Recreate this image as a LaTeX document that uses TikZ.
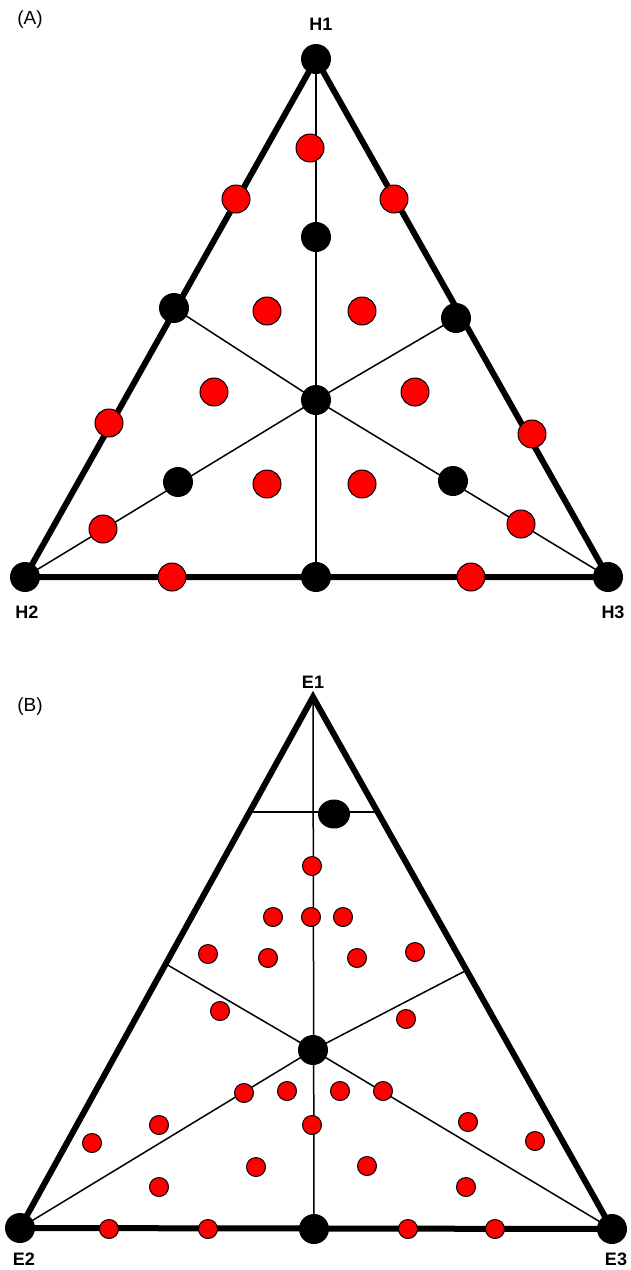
\documentclass[tikz,border=0pt]{standalone}
\usepackage{fontspec}
\setmainfont{Liberation Sans}
\usetikzlibrary{positioning, shapes.geometric}

\begin{document}
\begin{tikzpicture}[
  x=1pt, y=-1pt,
  side/.style={line width=6pt},
  median/.style={line width=1.5pt},
  blackdot/.style={circle, fill=black, inner sep=0pt, minimum size=#1},
  reddot/.style={circle, fill=red, draw=black, line width=1pt, inner sep=0pt, minimum size=#1},
  vertex/.style={font=\fontsize{18}{18}\selectfont\bfseries, inner sep=0pt},
  panel/.style={font=\fontsize{19}{19}\selectfont, inner sep=0pt}
]
\useasboundingbox (0,0) rectangle (630,1270);

% === (A) H1-H2-H3 ===
\coordinate (h1)  at (316,59);
\coordinate (h2)  at (25,577);
\coordinate (h3)  at (608,577);
\coordinate (h12) at (174,308);
\coordinate (h13) at (456,318);
\coordinate (h23) at (316,577);
\coordinate (hc)  at (316,400);

\draw[median] (h1) -- (h23);
\draw[median] (h2) -- (hc) -- (h13);
\draw[median] (h3) -- (hc) -- (h12);
\draw[side, line join=round] (h1) -- (h2) -- (h3) -- cycle;

\foreach \c in {h1, h2, h3, h12, h13, h23, hc}
  \node[blackdot=30pt] (d\c) at (\c) {};
\node[blackdot=30pt] (ha1) at (316,237) {};
\node[blackdot=30pt] (ha2) at (178,482) {};
\node[blackdot=30pt] (ha3) at (453,481) {};

\foreach \p [count=\i] in {(236,199), (109,423), (394,199), (532,434), (172,577),
    (471,577), (310,148), (267,311), (362,311), (214,392), (415,392), (267,484),
    (362,484), (103,529), (521,524)}
  \node[reddot=28pt] (hr\i) at \p {};

\node[panel]  (la) at (30,20)   {(A)};
\node[vertex] (lh1) at (321,24)  {H1};
\node[vertex] (lh2) at (27,612)  {H2};
\node[vertex] (lh3) at (613,612) {H3};

% === (B) E1-E2-E3 ===
\coordinate (e1)  at (313,697);
\coordinate (e2)  at (20,1228);
\coordinate (e3)  at (612,1229);
\coordinate (e12) at (166,964);
\coordinate (e13) at (465,971);
\coordinate (e23) at (314,1229);
\coordinate (ec)  at (313,1050);
\coordinate (et1) at (250,812);
\coordinate (et2) at (378,812);

\draw[median] (e1) -- (e23);
\draw[median] (e2) -- (ec) -- (e13);
\draw[median] (e3) -- (ec) -- (e12);
\draw[median] (et1) -- (et2);
\draw[side, line join=miter] (e1) -- (e2) -- (e3) -- cycle;

\foreach \c in {e2, e3, e23, ec}
  \node[blackdot=30pt] (d\c) at (\c) {};
\node[ellipse, fill=black, inner sep=0pt, minimum width=32pt, minimum height=29pt]
  (etop) at (334,814) {};

\foreach \p [count=\i] in {(312,866), (273,917), (311,917), (343,917), (208,954),
    (268,958), (357,958), (415,952), (220,1011), (406,1019), (244,1093), (287,1091),
    (340,1091), (383,1091), (159,1125), (312,1125), (468,1122), (92,1143), (535,1141),
    (256,1167), (367,1166), (159,1187), (466,1187), (109,1229), (208,1229),
    (408,1229), (495,1229)}
  \node[reddot=19pt] (er\i) at \p {};

\node[panel]  (lb) at (30,707)    {(B)};
\node[vertex] (le1) at (313,682)  {E1};
\node[vertex] (le2) at (24,1259)  {E2};
\node[vertex] (le3) at (616,1259) {E3};

\end{tikzpicture}
\end{document}
